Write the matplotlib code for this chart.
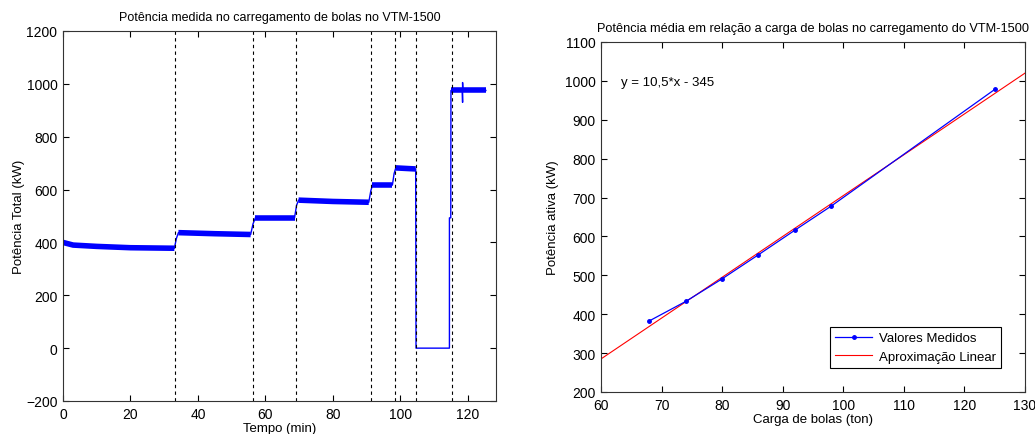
import numpy as np
import matplotlib
matplotlib.use("Agg")
import matplotlib.pyplot as plt

plt.rcParams['font.family'] = ['Liberation Sans', 'DejaVu Sans']

# --- grafico da esquerda: potencia medida ao longo do tempo ---
tempo = [0, 3, 10, 20, 33.0, 33.6, 34.2, 45, 55.6, 56.3, 57.0, 68.6, 69.2, 69.8,
         80, 90.6, 91.2, 91.7, 97.6, 98.1, 98.6, 104.5, 104.6, 114.5, 114.5,
         114.9, 114.95, 118.3, 118.4, 118.4, 118.5, 125.3]
potencia = [400, 390, 385, 380, 378, 415, 437, 433, 430, 470, 493, 493, 540, 560,
            555, 552, 595, 617, 617, 660, 682, 678, 0, 0, 493, 493, 975, 975,
            930, 1005, 975, 975]

# trechos com ruido (faixa mais grossa)
plat_ini = [0, 34.2, 57.0, 69.8, 91.7, 98.6, 114.95, 118.5]
plat_fim = [33.0, 55.6, 68.6, 90.6, 97.6, 104.5, 118.3, 125.3]

# instantes de carregamento (linhas tracejadas)
cargas_t = [33.3, 56.4, 68.9, 91.3, 98.3, 104.7, 115.2]

# --- grafico da direita: potencia media x carga de bolas ---
carga = [68, 74, 80, 86, 92, 98, 125]
pot_media = [383, 433, 491, 553, 616, 678, 978]
ajuste_x = [60, 130]
ajuste_y = [285, 1020]

fig = plt.figure(figsize=(10.35, 4.35), dpi=100)
ax1 = fig.add_axes([63 / 1035, 1 - 402 / 435, 433 / 1035, 370 / 435])
ax2 = fig.add_axes([601 / 1035, 1 - 393 / 435, 424 / 1035, 350 / 435])

t = np.array(tempo)
p = np.array(potencia)
ax1.plot(t, p, '-', color='blue', lw=1.0)
for a, b in zip(plat_ini, plat_fim):
    m = (t >= a) & (t <= b)
    ax1.plot(t[m], p[m], '-', color='blue', lw=4.0, solid_capstyle='butt')
for x in cargas_t:
    ax1.axvline(x, color='black', ls=(0, (3, 3)), lw=0.8)

ax1.set_xlim(0, 128.3)
ax1.set_ylim(-200, 1200)
ax1.set_xticks(np.arange(0, 121, 20))
ax1.set_yticks(np.arange(-200, 1201, 200))
ax1.set_title('Potência medida no carregamento de bolas no VTM-1500', fontsize=9, pad=8)
ax1.set_xlabel('Tempo (min)', fontsize=9.5, labelpad=1)
ax1.set_ylabel('Potência Total (kW)', fontsize=9.5, labelpad=1)

ax2.plot(ajuste_x, ajuste_y, '-', color='red', lw=0.8, label='Aproximação Linear')
ax2.plot(carga, pot_media, '.-', color='blue', lw=0.9, markersize=5,
         label='Valores Medidos')
ax2.text(63.3, 997, 'y = 10,5*x - 345', fontsize=9.5, va='center')
ax2.set_xlim(60, 130)
ax2.set_ylim(200, 1100)
ax2.set_xticks(np.arange(60, 131, 10))
ax2.set_yticks(np.arange(200, 1101, 100))
ax2.set_title('Potência média em relação a carga de bolas no carregamento do VTM-1500',
              fontsize=9.2, pad=8)
ax2.set_xlabel('Carga de bolas (ton)', fontsize=9.5, labelpad=1)
ax2.set_ylabel('Potência ativa (kW)', fontsize=9.5)
h, l = ax2.get_legend_handles_labels()
leg = ax2.legend(h[::-1], l[::-1], loc='lower right', fontsize=9.5, fancybox=False,
                 edgecolor='black', framealpha=1, borderaxespad=1.8,
                 handlelength=2.8, handletextpad=0.5)
leg.get_frame().set_linewidth(0.8)

for ax in (ax1, ax2):
    ax.tick_params(direction='in', top=True, right=True, length=4, labelsize=10,
                   width=0.8, pad=4)
    for s in ax.spines.values():
        s.set_linewidth(0.8)
        s.set_color('#333333')

fig.savefig('out.png', dpi=100)
